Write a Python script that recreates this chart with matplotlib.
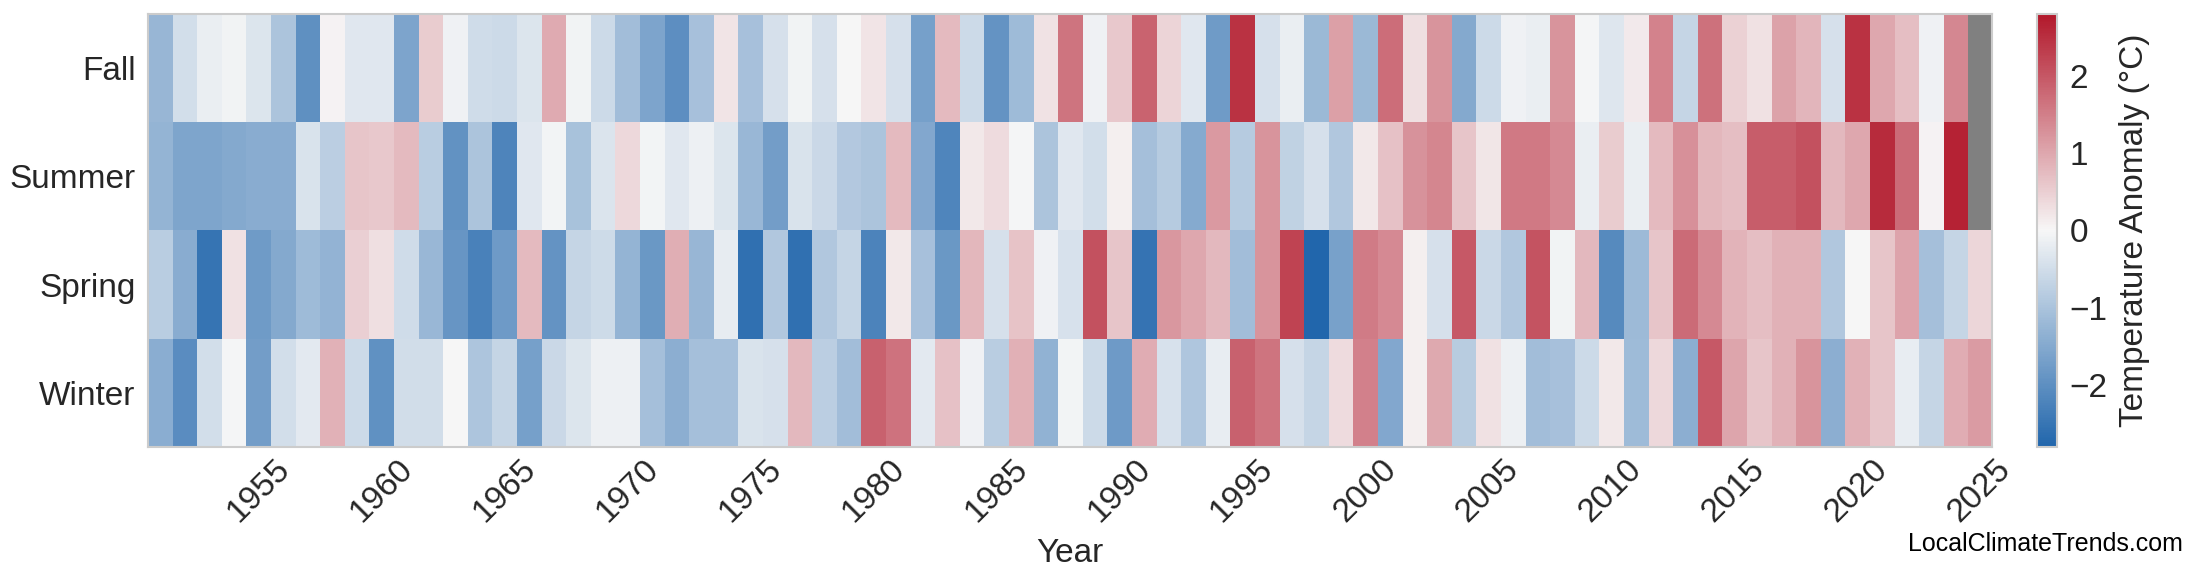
import numpy as np
import matplotlib
matplotlib.use("Agg")
import matplotlib.pyplot as plt
from matplotlib.colors import LinearSegmentedColormap

years = list(range(1951, 2026))
seasons = ["Fall", "Summer", "Spring", "Winter"]

fall = [-1.23, -0.48, -0.16, -0.07, -0.34, -0.97, -1.99, 0.05, -0.29, -0.29,
        -1.58, 0.53, -0.10, -0.51, -0.55, -0.35, 0.95, -0.07, -0.56, -1.11,
        -1.58, -2.00, -1.03, 0.24, -1.03, -0.43, -0.07, -0.43, 0.00, 0.23,
        -0.43, -1.68, 0.75, -0.55, -1.91, -1.14, 0.25, 1.62, -0.10, 0.59,
        1.85, 0.43, -0.30, -1.77, 2.45, -0.42, -0.17, -1.19, 1.08, -1.19,
        1.71, 0.30, 1.24, -1.50, -0.56, -0.10, -0.17, 1.23, -0.03, -0.31,
        0.16, 1.46, -0.64, 1.68, 0.46, 0.28, 1.05, 0.82, -0.43, 2.45,
        1.00, 0.70, -0.09, 1.39, np.nan]
summer = [-1.28, -1.57, -1.56, -1.50, -1.43, -1.44, -0.38, -0.77, 0.63, 0.59,
          0.75, -0.80, -1.94, -0.97, -2.20, -0.29, -0.05, -1.02, -0.37, 0.38,
          -0.05, -0.29, -0.12, -0.34, -1.22, -1.71, -0.38, -0.59, -0.88, -0.97,
          0.75, -1.53, -2.17, 0.19, 0.34, -0.04, -0.97, -0.30, -0.48, 0.10,
          -1.06, -0.85, -1.47, 1.17, -0.85, 1.23, -0.72, -0.43, -0.90, 0.18,
          0.67, 1.26, 1.42, 0.63, 0.21, 1.56, 1.56, 1.36, -0.17, 0.53,
          -0.17, 0.75, 1.27, 0.79, 0.72, 1.91, 1.91, 2.07, 0.78, 1.00,
          2.55, 1.73, 0.05, 2.66, np.nan]
spring = [-0.79, -1.43, -2.51, 0.28, -1.77, -1.50, -1.14, -1.31, 0.49, 0.30,
          -0.51, -1.22, -1.86, -2.26, -1.78, 0.75, -1.91, -0.64, -0.54, -1.27,
          -1.83, 0.90, -1.23, -0.20, -2.60, -0.90, -2.60, -0.90, -0.65, -2.21,
          0.18, -1.03, -1.82, 0.79, -0.43, 0.65, -0.10, -0.41, 2.07, 0.63,
          -2.53, 1.19, 0.99, 0.78, -1.11, 1.24, 2.24, -2.79, -1.66, 1.55,
          1.37, 0.09, -0.43, 1.97, -0.59, -0.90, 2.05, -0.07, 0.78, -2.08,
          -1.18, 0.63, 1.73, 1.36, 0.84, 0.72, 0.87, 0.87, -0.90, 0.00,
          0.63, 1.04, -1.07, -0.64, 0.40]
winter = [-1.41, -2.04, -0.46, -0.03, -1.71, -0.48, -0.26, 0.87, -0.56, -1.96,
          -0.50, -0.50, 0.02, -0.96, -0.64, -1.68, -0.58, -0.34, -0.12, -0.12,
          -1.07, -1.40, -1.07, -1.06, -0.39, -0.43, 0.78, -0.77, -1.11, 1.86,
          1.66, -0.26, 0.67, -0.10, -0.79, 0.89, -1.32, -0.05, -0.56, -1.79,
          0.93, -0.41, -0.93, -0.18, 1.86, 1.62, -0.43, -0.64, 0.33, 1.47,
          -1.52, 0.09, 0.98, -0.82, 0.28, -0.12, -1.10, -1.03, -0.55, 0.18,
          -1.14, 0.39, -1.39, 1.97, 1.02, 0.63, 0.87, 1.23, -1.39, 0.87,
          0.63, -0.18, -0.64, 0.92, 1.14]

tick_years = list(range(1955, 2026, 5))

text_color = "#262626"
plt.rcParams["font.family"] = ["Liberation Sans", "DejaVu Sans"]
plt.rcParams["text.color"] = text_color
plt.rcParams["axes.labelcolor"] = text_color
plt.rcParams["xtick.color"] = text_color
plt.rcParams["ytick.color"] = text_color

cmap = LinearSegmentedColormap.from_list("anom", ["#2166ac", "#f7f7f7", "#b2182b"])
cmap.set_bad("#808080")

data = np.array([fall, summer, spring, winter], dtype=float)
data = np.ma.masked_invalid(data)

fs = 24

fig = plt.figure(figsize=(22, 5.85), dpi=100)
# heatmap spans y 14..447 px, x 148..1992 px
ax = fig.add_axes([0.0673, 0.236, 0.8382, 0.740])
cax = fig.add_axes([0.926, 0.236, 0.0091, 0.740])

im = ax.imshow(data, aspect="auto", cmap=cmap, vmin=-2.8, vmax=2.8,
               interpolation="nearest")

ax.set_xticks([years.index(y) for y in tick_years])
ax.set_xticklabels([str(y) for y in tick_years], rotation=45, ha="center",
                   fontsize=fs)
ax.set_yticks(range(len(seasons)))
ax.set_yticklabels(seasons, fontsize=fs)
ax.tick_params(axis="both", length=0)
ax.tick_params(axis="x", pad=5)
ax.tick_params(axis="y", pad=9)
ax.set_xlabel("Year", fontsize=fs)
ax.xaxis.set_label_coords(0.5, -0.21)
for s in ax.spines.values():
    s.set_color("#cccccc")
    s.set_linewidth(1.5)

cb = fig.colorbar(im, cax=cax)
cb.set_ticks([-2, -1, 0, 1, 2])
cb.ax.tick_params(labelsize=fs, length=0, pad=9)
cb.set_label("Temperature Anomaly (°C)", fontsize=fs, labelpad=8)
cb.outline.set_edgecolor("#cccccc")
cb.outline.set_linewidth(1.5)

fig.text(0.992, 0.07, "LocalClimateTrends.com", ha="right",
         va="center", fontsize=18, color="black")

fig.savefig("out.png", dpi=100)
